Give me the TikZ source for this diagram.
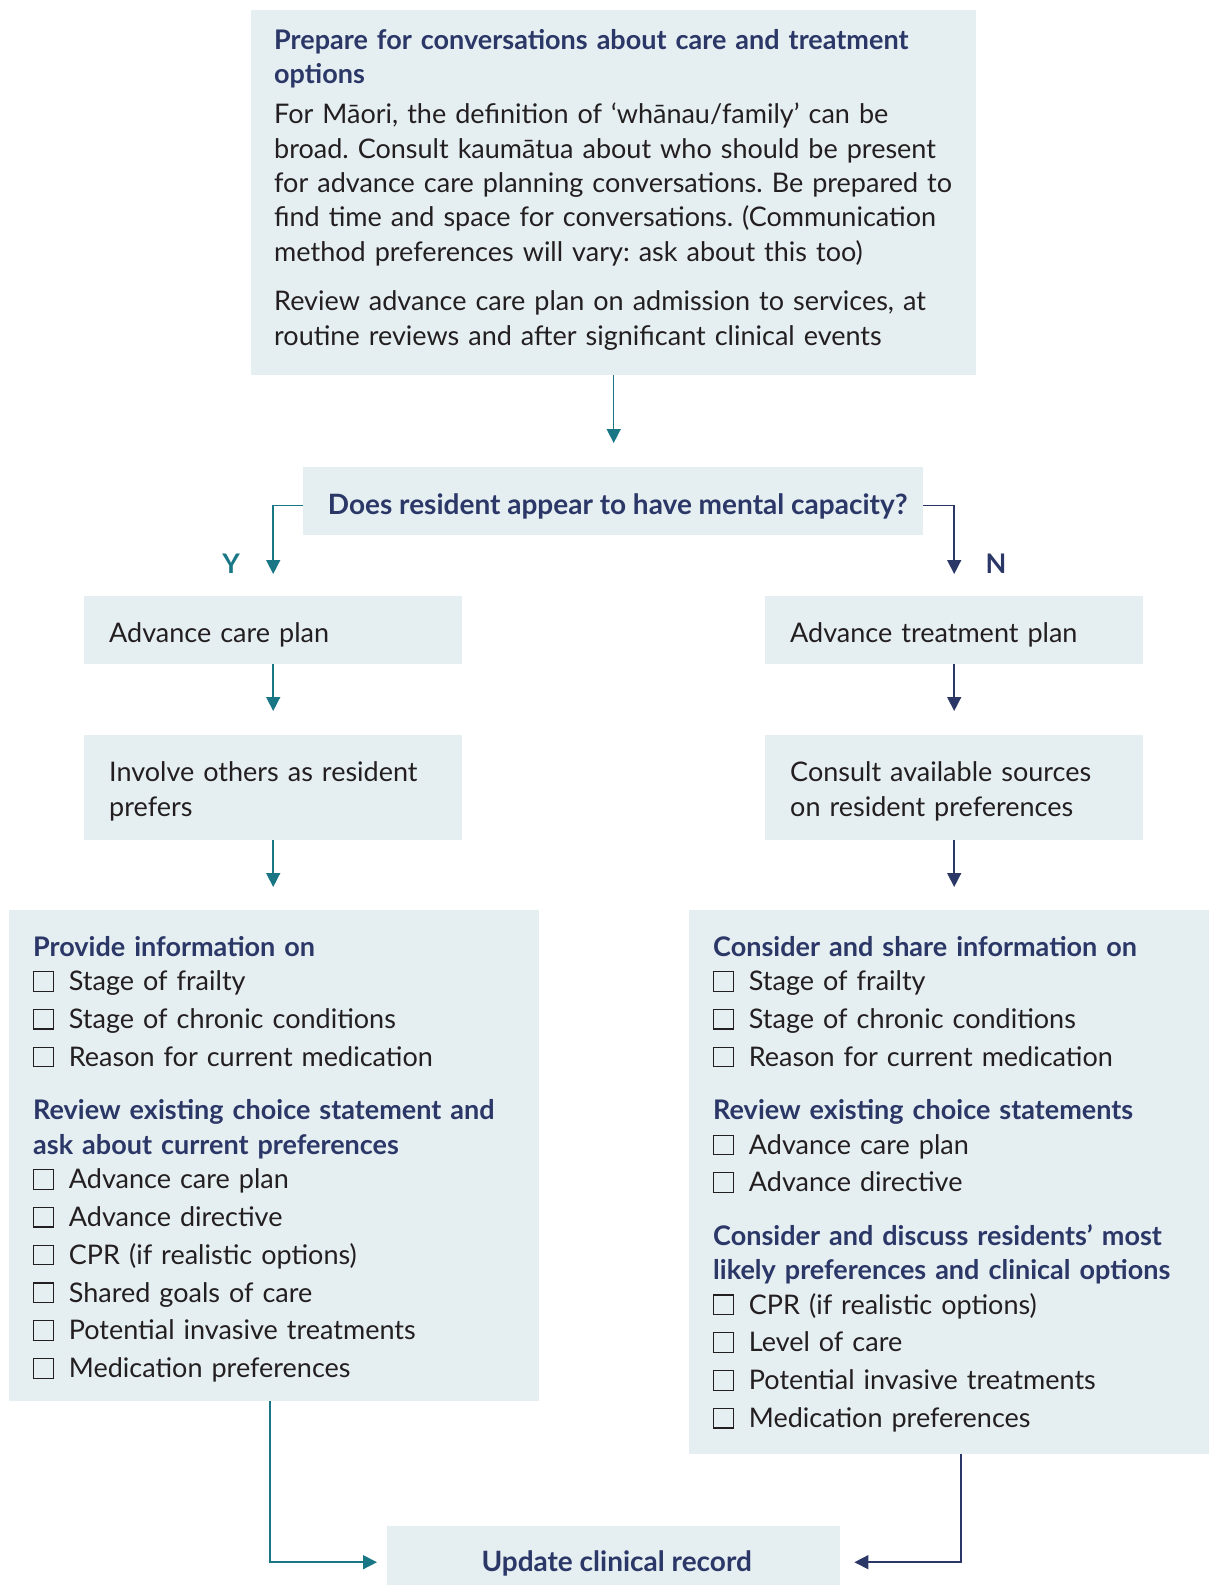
\documentclass[tikz,border=0pt]{standalone}
\usepackage{fontspec}
\setmainfont{Lato}
\usetikzlibrary{arrows.meta,calc}
\definecolor{boxfill}{HTML}{E5EEF1}
\definecolor{navyc}{HTML}{2B3767}
\definecolor{tealc}{HTML}{197785}
\definecolor{bodyc}{HTML}{231F20}
\newcommand{\bdfont}{\fontsize{27}{34.4}\selectfont\frenchspacing\color{bodyc}}
\newcommand{\hdfont}{\fontsize{27}{34.4}\selectfont\bfseries\color{navyc}}
\newcommand{\bighd}{\fontsize{28}{34.4}\selectfont\bfseries\color{navyc}}
\newcommand{\hd}[1]{{\bfseries\color{navyc}#1}}
\newcommand{\cbx}{{\setlength{\fboxrule}{1.1pt}\setlength{\fboxsep}{0pt}\fbox{\vrule width 0pt height 18.5pt\hspace{18.5pt}}}\hspace{15pt}}
\newcommand{\fl}{\rule{0pt}{21pt}}
\begin{document}
\begin{tikzpicture}[x=1pt,y=-1pt,
  box/.style={fill=boxfill, draw=none, inner sep=0pt, anchor=north west},
  txt/.style={inner sep=0pt, anchor=north west, align=left, font=\bdfont},
  tealarr/.style={draw=tealc, line width=1.5pt, -{Triangle[length=14pt,width=14pt]}},
  navyarr/.style={draw=navyc, line width=1.5pt, -{Triangle[length=14pt,width=14pt]}}]
\useasboundingbox (0,0) rectangle (1210,1585);
\clip (0,0) rectangle (1210,1585);

% boxes
\node[box, minimum width=725pt, minimum height=365pt] (prep) at (251,10) {};
\node[txt, text width=700pt] (prepT) at (274,28) {\fl\hd{Prepare for conversations about care and treatment}\\
\hd{options}\\[5.7pt]
For Māori, the definition of ‘whānau/family’ can be\\
broad. Consult kaumātua about who should be present\\
for advance care planning conversations. Be prepared to\\
find time and space for conversations. (Communication\\
method preferences will vary: ask about this too)\\[15pt]
Review advance care plan on admission to services, at\\
routine reviews and after significant clinical events};

\node[box, minimum width=620pt, minimum height=68pt, font=\bighd, text height=27pt, text depth=0pt] (dec) at (303,467) {\hspace*{9pt}Does resident appear to have mental capacity?};

\node[font=\hdfont, text=tealc] (ylab) at (231,564) {Y};
\node[font=\hdfont, text=navyc] (nlab) at (996,564) {N};

\node[box, minimum width=378pt, minimum height=68pt, text width=328pt, align=left, font=\bdfont, text height=25pt, text depth=0pt] (acp) at (84,596) {Advance care plan};
\node[box, minimum width=378pt, minimum height=68pt, text width=328pt, align=left, font=\bdfont, text height=25pt, text depth=0pt] (atp) at (765,596) {Advance treatment plan};

\node[box, minimum width=378pt, minimum height=105pt, text width=328pt, align=left, font=\bdfont] (inv) at (84,735) {\rule{0pt}{27pt}Involve others as resident\\prefers};
\node[box, minimum width=378pt, minimum height=105pt, text width=328pt, align=left, font=\bdfont] (cons) at (765,735) {\rule{0pt}{27pt}Consult available sources\\on resident preferences};

\node[box, minimum width=530pt, minimum height=491pt] (prov) at (9,910) {};
\node[txt, text width=500pt] (provT) at (33,935) {\fl\hd{Provide information on}\\
\cbx Stage of frailty\\[3.4pt]
\cbx Stage of chronic conditions\\[3.4pt]
\cbx Reason for current medication\\[19.2pt]
\hd{Review existing choice statement and}\\
\hd{ask about current preferences}\\
\cbx Advance care plan\\[3.4pt]
\cbx Advance directive\\[3.4pt]
\cbx CPR (if realistic options)\\[3.4pt]
\cbx Shared goals of care\\[3.4pt]
\cbx Potential invasive treatments\\[3.4pt]
\cbx Medication preferences};

\node[box, minimum width=520pt, minimum height=544pt] (share) at (689,910) {};
\node[txt, text width=495pt] (shareT) at (713,935) {\fl\hd{Consider and share information on}\\
\cbx Stage of frailty\\[3.4pt]
\cbx Stage of chronic conditions\\[3.4pt]
\cbx Reason for current medication\\[19.2pt]
\hd{Review existing choice statements}\\
\cbx Advance care plan\\[3pt]
\cbx Advance directive\\[19.2pt]
\hd{Consider and discuss residents’ most}\\
\hd{likely preferences and clinical options}\\
\cbx CPR (if realistic options)\\[3.4pt]
\cbx Level of care\\[3.4pt]
\cbx Potential invasive treatments\\[3.4pt]
\cbx Medication preferences};

\node[box, minimum width=453pt, minimum height=72pt, font=\bighd, text height=19.5pt, text depth=0pt] (upd) at (387,1526) {\hspace*{6pt}Update clinical record};

% connectors
\draw[tealarr, shorten >=24pt] (prep.south) -- (prep.south |- dec.north);
\draw[tealarr, shorten >=22pt] ([yshift=-4.4pt]dec.west) -| (acp.north);
\draw[navyarr, shorten >=22pt] ([yshift=-4.4pt]dec.east) -| (atp.north);
\draw[tealarr, shorten >=24pt] (acp.south) -- (inv.north);
\draw[navyarr, shorten >=24pt] (atp.south) -- (cons.north);
\draw[tealarr, shorten >=23pt] (inv.south) -- (inv.south |- prov.north);
\draw[navyarr, shorten >=23pt] (cons.south) -- (cons.south |- share.north);
\draw[tealarr, shorten >=10pt] ([xshift=-4pt]prov.south) |- (upd.west);
\draw[navyarr, shorten >=14pt] ([xshift=12pt]share.south) |- (upd.east);
\end{tikzpicture}
\end{document}
